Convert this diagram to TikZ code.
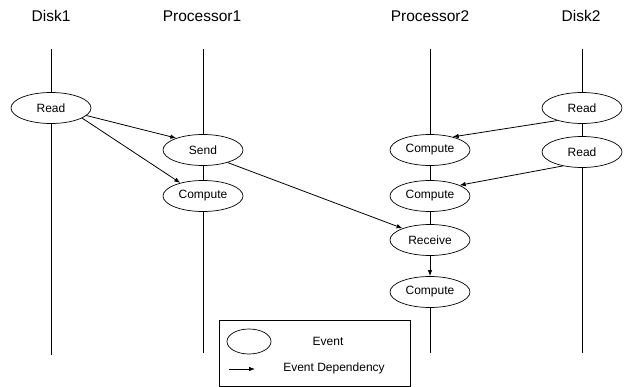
\documentclass[tikz,border=0pt]{standalone}
\usepackage{fontspec}
\setmainfont{Liberation Sans}
\usetikzlibrary{arrows.meta,shapes.geometric}
\begin{document}
\begin{tikzpicture}[x=1pt,y=-1pt,
  event/.style={ellipse,draw,line width=0.7pt,minimum width=80pt,minimum height=31pt,inner sep=0pt,font=\fontsize{12}{14}\selectfont},
  title/.style={font=\fontsize{15.5}{18}\selectfont},
  tl/.style={line width=0.8pt},
  dep/.style={line width=0.8pt,-{Latex[length=6pt,width=4.5pt]}}]
\useasboundingbox (0,0) rectangle (626,387);
% titles
\node[title] (t1) at (51,16) {Disk1};
\node[title] (t2) at (202,16) {Processor1};
\node[title] (t3) at (430,16) {Processor2};
\node[title] (t4) at (581,16) {Disk2};
% timeline ends
\coordinate (d1top) at (51,49); \coordinate (d1bot) at (51,355);
\coordinate (p1top) at (203,49); \coordinate (p1bot) at (203,353);
\coordinate (p2top) at (430,49); \coordinate (p2bot) at (430,353);
\coordinate (d2top) at (582,49); \coordinate (d2bot) at (582,353);
% events
\node[event] (r1) at (51,108) {Read};
\node[event] (send) at (203,150) {Send};
\node[event] (pc1) at (203,196) {Compute};
\node[event] (qc1) at (430,150) {Compute};
\node[event] (qc2) at (430,196) {Compute};
\node[event] (recv) at (430,240) {Receive};
\node[event] (qc3) at (430,292) {Compute};
\node[event] (r2a) at (582,108) {Read};
\node[event] (r2b) at (582,152) {Read};
% timelines
\draw[tl] (d1top) -- (r1.north) (r1.south) -- (d1bot);
\draw[tl] (p1top) -- (send.north) (send.south) -- (pc1.north) (pc1.south) -- (p1bot);
\draw[tl] (p2top) -- (qc1.north) (qc1.south) -- (qc2.north) (qc2.south) -- (recv.north) (qc3.south) -- (p2bot);
\draw[tl] (d2top) -- (r2a.north) (r2a.south) -- (r2b.north) (r2b.south) -- (d2bot);
% dependencies
\draw[dep] (r1.-12) -- (send.156);
\draw[dep] (r1.-18) -- (pc1.150);
\draw[dep] (send.-27) -- (recv.157);
\draw[dep] (r2a.207) -- (qc1.30);
\draw[dep] (r2b.216) -- (qc2.20);
\draw[dep] (recv.south) -- (qc3.north);
% legend
\node[draw,line width=0.7pt,minimum width=191pt,minimum height=66pt,inner sep=0pt] (leg) at (314.5,353) {};
\node[ellipse,draw,line width=0.7pt,minimum width=44pt,minimum height=25pt,inner sep=0pt] (le) at (249,341.5) {};
\node[font=\fontsize{12}{14}\selectfont] (let) at (328,341) {Event};
\coordinate (la1) at (229,369); \coordinate (la2) at (255,369);
\draw[dep] (la1) -- (la2);
\node[font=\fontsize{12}{14}\selectfont] (ldt) at (334,368) {Event Dependency};
\end{tikzpicture}
\end{document}
